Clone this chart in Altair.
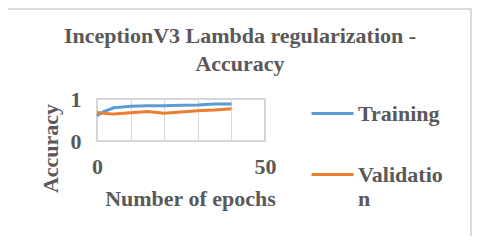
import altair as alt
import pandas as pd

epochs = [0, 2, 5, 10, 15, 20, 25, 30, 35, 40]
training = [0.60, 0.70, 0.79, 0.83, 0.84, 0.84, 0.85, 0.86, 0.88, 0.88]
validation = [0.68, 0.66, 0.64, 0.67, 0.70, 0.66, 0.69, 0.72, 0.74, 0.77]
series = ["Training", "Validation"]
colors = ["#5B9BD5", "#ED7D31"]
title_lines = ["InceptionV3 Lambda regularization -", "Accuracy"]

rows = []
for e, t, v in zip(epochs, training, validation):
    rows.append({"epoch": e, "acc": t, "series": series[0]})
    rows.append({"epoch": e, "acc": v, "series": series[1]})
df = pd.DataFrame(rows)

FONT = "Liberation Serif"
GRAY = "#595959"
FS = 22

one = pd.DataFrame({"k": [0]})

border = alt.Chart(one).mark_rect(
    fill=None, stroke="#D0D0D0", strokeWidth=1.5, clip=False
).encode(
    x=alt.value(-90), x2=alt.value(463 - 89),
    y=alt.value(-90), y2=alt.value(229 - 91),
)

title1 = alt.Chart(one).mark_text(
    font=FONT, fontSize=FS, fontWeight="bold", color=GRAY,
    align="center", baseline="alphabetic", clip=False
).encode(x=alt.value(143), y=alt.value(-56), text=alt.value(title_lines[0]))

title2 = alt.Chart(one).mark_text(
    font=FONT, fontSize=FS, fontWeight="bold", color=GRAY,
    align="center", baseline="alphabetic", clip=False
).encode(x=alt.value(143), y=alt.value(-28), text=alt.value(title_lines[1]))

lines = alt.Chart(df).mark_line(strokeWidth=3).encode(
    x=alt.X("epoch:Q", scale=alt.Scale(domain=[0, 50], nice=False),
            axis=alt.Axis(values=[0, 10, 20, 30, 40, 50], format="d",
                          labelExpr="datum.value==0||datum.value==50 ? datum.label : ''",
                          title="Number of epochs", titleX=93, titleY=57,
                          titleBaseline="middle", labelPadding=15, labelFlush=False)),
    y=alt.Y("acc:Q", scale=alt.Scale(domain=[0, 1], nice=False),
            axis=alt.Axis(values=[0, 0.2, 0.4, 0.6, 0.8, 1.0], format="d",
                          labelExpr="datum.value==0||datum.value==1 ? datum.label : ''",
                          title="Accuracy", titleX=-47, titleY=49,
                          titleBaseline="middle", labelPadding=16, labelFlush=False)),
    color=alt.Color("series:N", scale=alt.Scale(domain=series, range=colors),
                    legend=alt.Legend(title=None, orient="none", legendX=213, legendY=-8,
                                      symbolType="stroke", symbolSize=1764,
                                      symbolStrokeWidth=3, rowPadding=27,
                                      labelExpr="datum.label=='Validation' ? ['Validatio','n'] : datum.label",
                                      labelFont=FONT, labelFontSize=FS, labelFontWeight="bold",
                                      labelColor=GRAY, labelOffset=3, labelLimit=200)),
)

chart = alt.layer(border, title1, title2, lines).properties(
    width=168, height=42,
    padding={"left": 89, "top": 91, "right": 207, "bottom": 95},
    autosize=alt.AutoSizeParams(type="none"),
).configure_axis(
    labelFont=FONT, labelFontSize=FS, labelFontWeight="bold", labelColor=GRAY,
    titleFont=FONT, titleFontSize=FS, titleFontWeight="bold", titleColor=GRAY,
    gridColor="#D9D9D9", gridWidth=1, domain=False, ticks=False,
).configure_view(stroke="#C8C8C8", strokeWidth=1.5)

chart.save("out.html", embed_options={"renderer": "svg", "actions": False})
